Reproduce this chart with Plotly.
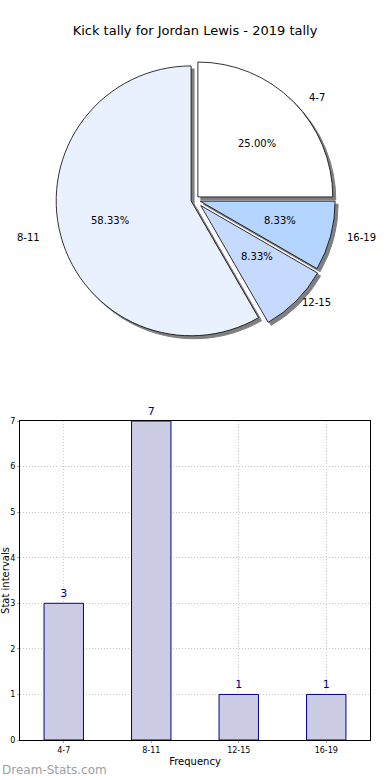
import numpy as np
import plotly.graph_objects as go

title = "Kick tally for Jordan Lewis - 2019 tally"
categories = ["4-7", "8-11", "12-15", "16-19"]
counts = [3, 7, 1, 1]
pie_colors = ["#ffffff", "#eaf1fe", "#c6d9ff", "#b3d5ff"]
pulls = [0.03, 0.03, 0.06, 0.04]

FONT = "DejaVu Sans"
W, H = 390, 780
ML, MR, MT, MB = 20, 20, 0, 40
PW, PH = W - ML - MR, H - MT - MB

pie_cx, pie_cy = 0.5, 0.73
pie_half_h = 143 / PH
pie_dom = dict(x=[0.02, 0.98], y=[pie_cy - pie_half_h, pie_cy + pie_half_h])
sh_dx, sh_dy = 3 / PW, 3 / PH
shadow_dom = dict(x=[0.02 + sh_dx, 0.98 + sh_dx], y=[pie_dom["y"][0] - sh_dy, pie_dom["y"][1] - sh_dy])

fig = go.Figure()
fig.add_trace(go.Pie(
    values=counts, labels=categories, sort=False, direction="counterclockwise",
    rotation=0, pull=pulls, domain=shadow_dom, textinfo="none",
    marker=dict(colors=["#808080"] * 4, line=dict(color="#808080", width=1)),
    hoverinfo="skip", showlegend=False))
fig.add_trace(go.Pie(
    values=counts, labels=categories, sort=False, direction="counterclockwise",
    rotation=0, pull=pulls, domain=pie_dom, textinfo="none",
    marker=dict(colors=pie_colors, line=dict(color="#000000", width=0.8)),
    showlegend=False))

# label / percent annotations computed from data (slices start at 3 o'clock, ccw)
vals = np.array(counts, dtype=float)
tot = vals.sum()
mids = np.deg2rad(360 * (np.cumsum(vals) - vals / 2) / tot)
annos = []
for cat, v, a in zip(categories, vals, mids):
    lx = pie_cx + 172 * np.cos(a) / PW
    ly = pie_cy + 145 * np.sin(a) / PH
    annos.append(dict(x=lx, y=ly, xref="paper", yref="paper", xanchor="center", yanchor="middle",
                      text=cat, showarrow=False, font=dict(family=FONT, size=10, color="#000")))
    px = pie_cx + 88 * np.cos(a) / PW
    py = pie_cy + 80 * np.sin(a) / PH
    annos.append(dict(x=px, y=py, xref="paper", yref="paper", xanchor="center", yanchor="middle",
                      text=f"{100 * v / tot:.2f}%", showarrow=False,
                      font=dict(family=FONT, size=10, color="#000")))

fig.add_trace(go.Bar(
    x=categories, y=counts, width=0.45, text=[str(c) for c in counts],
    textposition="outside", cliponaxis=False,
    textfont=dict(family=FONT, size=11, color="#00008b"),
    marker=dict(color="#ccccE5", line=dict(color="#00008b", width=1)),
    xaxis="x", yaxis="y", showlegend=False))

bar_top = (H - MB - 421) / PH
annos.append(dict(x=-ML / PW, y=-30 / PH, xref="paper", yref="paper", xanchor="left",
                  yanchor="middle", text="Dream-Stats.com", showarrow=False,
                  font=dict(family=FONT, size=12, color="#a0a0a0")))

fig.update_layout(
    width=W, height=H, margin=dict(l=ML, r=MR, t=MT, b=MB),
    paper_bgcolor="white", plot_bgcolor="white",
    title=dict(text=title, x=0.5, xanchor="center", y=1 - 30 / H, yanchor="middle",
               font=dict(family=FONT, size=13, color="#000")),
    font=dict(family=FONT, color="#000"),
    xaxis=dict(domain=[0, 1], anchor="y", showline=True, mirror=True, linecolor="#000",
               linewidth=1, showgrid=True, gridcolor="#c8c8c8", griddash="1px,2px",
               tickfont=dict(size=8), ticks="outside", ticklen=2, tickcolor="#aaaaaa",
               range=[-0.5, 3.5], automargin=False,
               title=dict(text="Frequency", font=dict(size=10), standoff=4)),
    yaxis=dict(domain=[0, bar_top], anchor="x", range=[0, 7], dtick=1, showline=True,
               mirror=True, linecolor="#000", linewidth=1, showgrid=True, automargin=False,
               gridcolor="#c8c8c8", griddash="1px,2px", tickfont=dict(size=8),
               ticks="outside", ticklen=2, tickcolor="#aaaaaa",
               zeroline=False, title=dict(text="Stat intervals", font=dict(size=10), standoff=0)),
    annotations=annos,
)

fig.write_html("out.html", config={"displayModeBar": False},
               post_script="document.body.style.margin='0';")
